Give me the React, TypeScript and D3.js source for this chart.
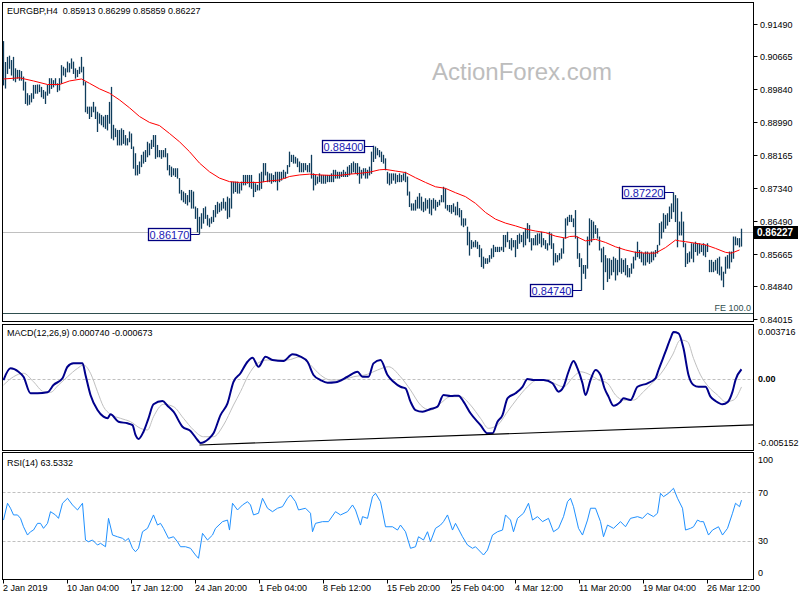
import React, { useEffect } from 'react';
import * as d3 from 'd3';

const TITLE = 'EURGBP,H4  0.85913 0.86299 0.85859 0.86227';
const MACD_TITLE = 'MACD(12,26,9) 0.000740 -0.000673';
const RSI_TITLE = 'RSI(14) 63.5332';
const WATERMARK = 'ActionForex.com';

const TIME_LABEL_BARS = [0, 32, 64, 96, 128, 160, 192, 224, 256, 288, 320, 352];
const TIME_LABELS = ['2 Jan 2019', '10 Jan 04:00', '17 Jan 12:00', '24 Jan 20:00', '1 Feb 04:00', '8 Feb 12:00',
  '15 Feb 20:00', '25 Feb 04:00', '4 Mar 12:00', '11 Mar 20:00', '19 Mar 04:00', '26 Mar 12:00'];

const PRICE_TICKS = [0.9149, 0.90665, 0.8984, 0.8899, 0.88165, 0.8734, 0.8649, 0.85665, 0.8484, 0.84015];
const MACD_TICKS = [0.003716, 0, -0.005152];
const RSI_TICKS = [100, 70, 30, 0];
const RSI_LEVELS = [70, 30];

const LAST_PRICE = 0.86227;
const FE_LEVEL = 0.84164;

const MARK_BARS = [98, 185, 335, 289];
const MARK_PRICES = [0.8617, 0.884, 0.8722, 0.8474];

const HIGH = [
  0.9105,0.9052,0.9065,0.9068,0.9057,0.9065,0.9036,0.9032,0.9032,0.9029,
  0.9015,0.9002,0.8973,0.8968,0.8973,0.8994,0.8994,0.8995,0.8995,0.8989,
  0.8981,0.8977,0.8994,0.9011,0.9011,0.9006,0.9011,0.8998,0.9011,0.9044,
  0.9040,0.9036,0.9053,0.9049,0.9061,0.9053,0.9036,0.9032,0.9040,0.9065,
  0.9040,0.9002,0.8939,0.8939,0.8939,0.8951,0.8939,0.8926,0.8922,0.8918,
  0.8914,0.8918,0.8918,0.8951,0.8989,0.8893,0.8884,0.8880,0.8880,0.8884,
  0.8880,0.8867,0.8859,0.8876,0.8871,0.8838,0.8821,0.8791,0.8800,0.8817,
  0.8825,0.8829,0.8850,0.8846,0.8855,0.8867,0.8867,0.8842,0.8829,0.8829,
  0.8829,0.8834,0.8821,0.8791,0.8787,0.8783,0.8783,0.8783,0.8758,0.8728,
  0.8724,0.8720,0.8715,0.8728,0.8728,0.8724,0.8686,0.8682,0.8660,0.8669,
  0.8682,0.8686,0.8665,0.8656,0.8660,0.8677,0.8690,0.8698,0.8694,0.8698,
  0.8707,0.8698,0.8711,0.8707,0.8749,0.8749,0.8749,0.8749,0.8745,0.8749,
  0.8766,0.8766,0.8766,0.8766,0.8766,0.8749,0.8745,0.8741,0.8770,0.8774,
  0.8796,0.8796,0.8774,0.8770,0.8770,0.8766,0.8774,0.8774,0.8774,0.8774,
  0.8779,0.8774,0.8791,0.8825,0.8817,0.8817,0.8812,0.8808,0.8800,0.8796,
  0.8796,0.8796,0.8791,0.8796,0.8817,0.8770,0.8766,0.8762,0.8770,0.8766,
  0.8766,0.8766,0.8766,0.8766,0.8770,0.8779,0.8779,0.8774,0.8774,0.8774,
  0.8779,0.8774,0.8787,0.8791,0.8796,0.8800,0.8796,0.8796,0.8787,0.8779,
  0.8783,0.8783,0.8779,0.8787,0.8825,0.8840,0.8838,0.8834,0.8829,0.8825,
  0.8817,0.8808,0.8774,0.8770,0.8770,0.8770,0.8770,0.8766,0.8770,0.8766,
  0.8770,0.8774,0.8762,0.8724,0.8694,0.8694,0.8703,0.8711,0.8720,0.8711,
  0.8698,0.8707,0.8703,0.8707,0.8703,0.8707,0.8703,0.8698,0.8703,0.8715,
  0.8736,0.8732,0.8690,0.8690,0.8690,0.8694,0.8686,0.8698,0.8682,0.8677,
  0.8656,0.8656,0.8635,0.8622,0.8601,0.8597,0.8601,0.8597,0.8589,0.8580,
  0.8559,0.8555,0.8555,0.8563,0.8580,0.8589,0.8584,0.8584,0.8584,0.8584,
  0.8614,0.8614,0.8622,0.8601,0.8606,0.8601,0.8601,0.8614,0.8618,0.8614,
  0.8622,0.8631,0.8644,0.8639,0.8606,0.8606,0.8614,0.8618,0.8618,0.8622,
  0.8606,0.8601,0.8593,0.8622,0.8618,0.8593,0.8568,0.8563,0.8568,0.8580,
  0.8606,0.8656,0.8660,0.8665,0.8665,0.8656,0.8677,0.8610,0.8568,0.8555,
  0.8538,0.8538,0.8610,0.8656,0.8652,0.8648,0.8639,0.8631,0.8610,0.8580,
  0.8584,0.8563,0.8555,0.8555,0.8551,0.8559,0.8555,0.8551,0.8584,0.8555,
  0.8551,0.8555,0.8538,0.8530,0.8542,0.8559,0.8572,0.8597,0.8576,0.8572,
  0.8568,0.8572,0.8572,0.8568,0.8572,0.8572,0.8576,0.8589,0.8644,0.8648,
  0.8669,0.8665,0.8669,0.8686,0.8694,0.8722,0.8715,0.8707,0.8648,0.8673,
  0.8648,0.8593,0.8568,0.8572,0.8593,0.8593,0.8597,0.8593,0.8593,0.8589,
  0.8593,0.8589,0.8593,0.8551,0.8551,0.8546,0.8551,0.8555,0.8559,0.8534,
  0.8521,0.8559,0.8563,0.8572,0.8572,0.8610,0.8610,0.8606,0.8606,0.86299,
];

const LOW = [
  0.8994,0.8986,0.9023,0.9036,0.9019,0.9006,0.9002,0.9011,0.9006,0.9006,
  0.8981,0.8947,0.8943,0.8945,0.8951,0.8960,0.8973,0.8973,0.8977,0.8964,
  0.8960,0.8947,0.8968,0.8973,0.8985,0.8989,0.8994,0.8977,0.8981,0.8998,
  0.9019,0.9015,0.9027,0.9027,0.9036,0.9023,0.9011,0.9015,0.9023,0.9027,
  0.8994,0.8926,0.8922,0.8909,0.8914,0.8926,0.8909,0.8876,0.8897,0.8893,
  0.8888,0.8884,0.8880,0.8897,0.8859,0.8855,0.8863,0.8842,0.8842,0.8842,
  0.8846,0.8842,0.8842,0.8850,0.8833,0.8783,0.8766,0.8766,0.8770,0.8787,
  0.8796,0.8800,0.8812,0.8817,0.8833,0.8838,0.8808,0.8812,0.8812,0.8808,
  0.8812,0.8812,0.8779,0.8766,0.8762,0.8766,0.8762,0.8758,0.8720,0.8703,
  0.8698,0.8694,0.8690,0.8698,0.8682,0.8682,0.8656,0.8622,0.8617,0.8631,
  0.8644,0.8656,0.8639,0.8635,0.8644,0.8648,0.8660,0.8669,0.8673,0.8677,
  0.8682,0.8677,0.8656,0.8660,0.8682,0.8720,0.8724,0.8720,0.8720,0.8728,
  0.8741,0.8741,0.8745,0.8736,0.8732,0.8711,0.8724,0.8728,0.8728,0.8732,
  0.8749,0.8766,0.8749,0.8749,0.8745,0.8749,0.8749,0.8728,0.8749,0.8753,
  0.8758,0.8758,0.8770,0.8787,0.8800,0.8796,0.8796,0.8787,0.8774,0.8774,
  0.8774,0.8779,0.8774,0.8774,0.8758,0.8728,0.8741,0.8745,0.8749,0.8745,
  0.8745,0.8745,0.8749,0.8749,0.8749,0.8749,0.8758,0.8758,0.8758,0.8762,
  0.8762,0.8762,0.8762,0.8766,0.8770,0.8774,0.8770,0.8766,0.8745,0.8758,
  0.8766,0.8758,0.8758,0.8766,0.8770,0.8800,0.8808,0.8817,0.8812,0.8800,
  0.8796,0.8779,0.8745,0.8741,0.8745,0.8753,0.8745,0.8749,0.8749,0.8749,
  0.8753,0.8749,0.8715,0.8686,0.8677,0.8677,0.8677,0.8682,0.8682,0.8677,
  0.8673,0.8677,0.8682,0.8669,0.8665,0.8682,0.8677,0.8686,0.8690,0.8698,
  0.8698,0.8682,0.8677,0.8673,0.8669,0.8673,0.8665,0.8665,0.8660,0.8639,
  0.8635,0.8639,0.8589,0.8563,0.8580,0.8584,0.8584,0.8580,0.8559,0.8534,
  0.8530,0.8542,0.8542,0.8546,0.8555,0.8559,0.8572,0.8572,0.8572,0.8576,
  0.8572,0.8584,0.8597,0.8580,0.8576,0.8584,0.8559,0.8580,0.8593,0.8597,
  0.8584,0.8589,0.8606,0.8597,0.8576,0.8589,0.8589,0.8589,0.8593,0.8584,
  0.8589,0.8580,0.8576,0.8589,0.8580,0.8538,0.8546,0.8546,0.8551,0.8555,
  0.8568,0.8606,0.8639,0.8648,0.8648,0.8635,0.8606,0.8555,0.8534,0.8474,
  0.8517,0.8504,0.8530,0.8589,0.8597,0.8606,0.8618,0.8606,0.8576,0.8546,
  0.8476,0.8521,0.8496,0.8504,0.8513,0.8521,0.8500,0.8513,0.8521,0.8517,
  0.8521,0.8513,0.8508,0.8508,0.8517,0.8530,0.8551,0.8559,0.8555,0.8546,
  0.8538,0.8538,0.8546,0.8542,0.8546,0.8551,0.8559,0.8568,0.8589,0.8606,
  0.8622,0.8631,0.8639,0.8648,0.8656,0.8673,0.8648,0.8584,0.8614,0.8614,
  0.8584,0.8534,0.8542,0.8546,0.8555,0.8546,0.8572,0.8563,0.8568,0.8572,
  0.8563,0.8559,0.8572,0.8521,0.8521,0.8521,0.8525,0.8517,0.8513,0.8500,
  0.8483,0.8517,0.8530,0.8530,0.8546,0.8555,0.8589,0.8589,0.8584,0.85859,
];

const MA_BARS = [0,8,15,22,28,33,39,43,48,53,58,63,68,73,78,83,88,93,98,103,108,113,118,123,128,133,138,143,148,153,
  158,163,168,173,178,183,188,191,196,201,206,211,216,221,226,231,236,241,246,251,256,261,266,271,276,281,283,286,291,296,
  301,306,311,316,321,326,331,336,338,341,346,351,356,361,364,368];
const MA_VALUES = [0.9009,0.9012,0.9004,0.8995,0.8995,0.9004,0.9009,0.8998,0.8984,0.8973,0.8956,0.8936,0.8914,0.8899,0.8891,
  0.8871,0.8850,0.8825,0.8796,0.8774,0.8758,0.8749,0.8747,0.8747,0.8747,0.8751,0.8753,0.8762,0.8766,0.8768,0.8766,0.8765,
  0.8765,0.8768,0.8770,0.8773,0.8779,0.8780,0.8776,0.8772,0.8759,0.8747,0.8736,0.8732,0.8721,0.8711,0.8694,0.8671,0.8654,
  0.8644,0.8637,0.8629,0.8624,0.8620,0.8611,0.8606,0.8610,0.8611,0.8599,0.8603,0.8595,0.8584,0.8576,0.8570,0.8568,0.8568,
  0.8582,0.8601,0.8599,0.8597,0.8593,0.8589,0.8580,0.8570,0.8568,0.8576];

const MACD_BARS = [0,3.5,7.5,10,13.5,17,22,25,29.5,32,35,39.5,41,43.5,47,50,52,53.5,57.5,62,64.5,66,67.5,70,72.5,75,79.5,82,85,89.5,
  93.5,97,98.5,102.5,105,108.5,112,115,118.5,122,124.5,127.5,131,134.5,140,144.5,148.5,152,155,158.5,162,166,172,177,179.5,182.5,185,188.5,192,195,
  198.5,201,203.5,206,209.5,213.5,217,220,223.5,227.5,230,233.5,238.5,242,244.5,247,249.5,252,256,259.5,262,265,270,274.5,277.5,280,282.5,285,287,289.5,
  291,293.5,296,298.5,300.5,302.5,305,308.5,310,313.5,317,322,326,327.5,331,333.5,335,337.5,340,342.5,345,347.5,351,353.5,356,359.5,362,364.5,366,369];
const MACD_VALUES = [-1.2e-4,8.1e-4,5.4e-4,1.4e-4,-11.8e-4,-11.8e-4,-11.0e-4,-5.2e-4,0.2e-4,9.4e-4,
  12.1e-4,12.1e-4,2.8e-4,-13.2e-4,-25.2e-4,-30.5e-4,-31.8e-4,-28.6e-4,-34.5e-4,-35.8e-4,
  -37.2e-4,-45.1e-4,-48.3e-4,-42.5e-4,-31.8e-4,-20.6e-4,-18.0e-4,-21.7e-4,-26.5e-4,-38.5e-4,
  -41.9e-4,-49.1e-4,-51.5e-4,-48.3e-4,-43.8e-4,-29.2e-4,-19.8e-4,-2.6e-4,4.2e-4,13.4e-4,
  16.6e-4,9.4e-4,17.4e-4,14.8e-4,14.0e-4,19.3e-4,17.4e-4,13.4e-4,2.8e-4,-1.2e-4,
  -3.4e-4,-3.0e-4,1.4e-4,5.4e-4,1.4e-4,1.4e-4,12.1e-4,14.8e-4,2.8e-4,-2.6e-4,
  -6.6e-4,-7.8e-4,-18.5e-4,-25.2e-4,-26.5e-4,-24.4e-4,-22.5e-4,-13.2e-4,-14.0e-4,-13.7e-4,
  -18.5e-4,-27.8e-4,-37.2e-4,-43.8e-4,-43.8e-4,-34.5e-4,-29.2e-4,-15.8e-4,-11.8e-4,-6.6e-4,
  -0.4e-4,-1.2e-4,-1.2e-4,-3.8e-4,-10.5e-4,-6.6e-4,5.4e-4,14.0e-4,8.1e-4,-3.8e-4,
  -13.2e-4,-1.2e-4,6.8e-4,2.8e-4,-7.8e-4,-14.5e-4,-21.7e-4,-18.5e-4,-15.8e-4,-17.2e-4,
  -6.6e-4,-3.8e-4,0.2e-4,6.8e-4,21.4e-4,32.1e-4,37.16e-4,36.1e-4,24.1e-4,2.8e-4,
  -5.2e-4,-6.6e-4,-6.6e-4,-14.5e-4,-18.0e-4,-20.6e-4,-19.0e-4,-10.5e-4,-1.2e-4,7.4e-4];

const SIGNAL_BARS = [0,5,10,15,20,23.5,27.5,32,37,40,43.5,47,50,53.5,58.5,63.5,68.5,72,75,80,85,90,95,100,105,110,115,118.5,122.5,127,
  132,137,142,148.5,153.5,158.5,163.5,168.5,175,182,187,192.5,198.5,203.5,208.5,213.5,218.5,223.5,228.5,233.5,
  238.5,242.5,247,252,257,262,267,273.5,280,285,288.5,293.5,297.5,302,306,310,315,320,325,330,334.5,338.5,342,345,348.5,352.5,357,361,365,369];
const SIGNAL_VALUES = [-5.2e-4,1.4e-4,4.2e-4,-2.6e-4,-10.5e-4,-11.0e-4,-5.2e-4,1.4e-4,8.1e-4,10.8e-4,
  4.2e-4,-10.5e-4,-22.5e-4,-28.6e-4,-31.8e-4,-34.5e-4,-39.8e-4,-41.1e-4,-30.5e-4,-20.6e-4,
  -22.5e-4,-31.8e-4,-41.1e-4,-46.5e-4,-46.5e-4,-37.2e-4,-21.2e-4,-10.5e-4,2.8e-4,12.1e-4,
  14.8e-4,14.8e-4,14.8e-4,17.4e-4,10.8e-4,2.8e-4,-1.2e-4,-1.2e-4,1.4e-4,3.4e-4,
  6.8e-4,9.4e-4,1.4e-4,-9.2e-4,-21.2e-4,-25.2e-4,-19.8e-4,-14.5e-4,-14.5e-4,-21.2e-4,
  -31.8e-4,-39.8e-4,-37.2e-4,-26.5e-4,-15.8e-4,-6.6e-4,-1.2e-4,-2.6e-4,-6.6e-4,1.4e-4,
  5.4e-4,2.8e-4,-1.2e-4,-3.8e-4,-13.2e-4,-17.2e-4,-17.2e-4,-10.5e-4,-2.6e-4,6.8e-4,
  18.8e-4,30.8e-4,29.4e-4,16.1e-4,2.8e-4,-6.6e-4,-13.2e-4,-18.5e-4,-17.2e-4,-6.73e-4];

const MACD_TREND_BARS = [98, 375];
const MACD_TREND_VALUES = [-0.00531, -0.0037];

const RSI_BARS = [0,2,3.5,5,7,8.5,10,12,13.5,15,17,18.5,20,22,23.5,26,27.5,29.5,32,34.5,37,39.5,41,42.5,44.5,47,48.5,51,52.5,54.5,
  57,59.5,61,62.5,64.5,66,67.5,69.5,72,75,77,78.5,80,82.5,85,87,88.5,91,93.5,96,97.5,99.5,102,104.5,106,109.5,112,113,114.5,117,
  119.5,122,123.5,125,127.5,129.5,132,134.5,137,139.5,142,143.5,146,147.5,151,153.5,154.5,156,159.5,162.5,166,168.5,172,174.5,176,178.5,179.5,182,184.5,186,
  188.5,191,194.5,197,198.5,201,203.5,206,207.5,210,212,213.5,216,218.5,220,222,224.5,226,229.5,232,234.5,236,240,242,244.5,247,249.5,251,253.5,255,
  257,260,262.5,264.5,267,269.5,272.5,275,277.5,280,282,283.5,285,287.5,289.5,292,293.5,296,298.5,300,302,305,308.5,311,313.5,317,319.5,322,325,327,
  328.5,330,332.5,335,337,339.5,341,343.5,345,347,348.5,350,352.5,354.5,357.5,359.5,362,364.5,366,368,369];
const RSI_VALUES = [47.2,61.0,56.9,51.4,51.4,48.6,41.7,34.9,37.6,39.0,44.5,44.5,40.4,44.5,54.1,51.4,48.6,61.0,65.1,59.6,
  55.5,61.0,30.8,29.4,30.8,26.7,28.1,25.3,48.6,34.9,33.5,32.2,30.2,32.2,24.0,21.2,24.0,37.6,40.4,51.4,
  43.1,44.5,40.4,32.2,33.5,29.4,25.3,25.3,24.0,18.5,15.8,36.3,30.8,34.9,40.4,45.9,47.2,39.0,61.0,55.5,
  59.6,62.3,59.6,51.4,52.8,65.1,56.9,54.1,56.9,58.2,65.1,67.8,62.3,55.5,56.9,52.8,37.6,44.5,45.9,45.9,
  54.1,51.4,54.1,59.6,55.5,43.1,50.0,48.6,66.4,69.2,62.3,41.7,41.7,39.0,43.1,37.6,24.0,25.3,33.5,30.8,
  37.6,29.4,40.4,43.1,45.9,51.4,39.0,44.5,33.5,26.7,24.0,25.3,18.5,22.6,34.9,37.6,39.0,51.4,47.2,37.6,
  48.6,52.8,61.0,47.2,50.0,45.9,48.6,37.6,40.4,50.0,62.3,65.1,58.2,40.4,34.9,47.2,56.9,56.9,45.9,33.5,
  43.1,40.4,45.9,41.7,48.6,50.0,48.6,52.8,50.0,52.8,69.2,66.4,69.2,73.3,65.1,56.9,39.0,40.4,41.7,47.2,
  45.9,45.9,34.9,39.0,41.7,34.9,40.4,52.8,61.0,58.2,63.53];

const FONT = "'Liberation Sans', Arial, sans-serif";
const BAR_COLOR = '#0f3d5c';

export default function App() {
  useEffect(() => {
    document.body.style.margin = '0';
  }, []);

  const left = 2.5, right = 753.5;
  const main = { top: 2.5, bottom: 321.5 };
  const macdP = { top: 324.5, bottom: 450.5 };
  const rsiP = { top: 452.5, bottom: 579.5 };

  const x = d3.scaleLinear().domain([0, 369]).range([3.5, 741.5]);
  const yP = d3.scaleLinear().domain([0.88165, 0.8484]).range([155, 286.3]);
  const yM = d3.scaleLinear().domain([0.003716, -0.005152]).range([332, 443]);
  const yR = d3.scaleLinear().domain([70, 30]).range([492.3, 541]);

  const maPath = d3.line<number>().x((_, i) => x(MA_BARS[i])).y((d) => yP(d))(MA_VALUES) || '';
  const macdPath = d3.line<number>().x((_, i) => x(MACD_BARS[i])).y((d) => yM(d)).curve(d3.curveMonotoneX)(MACD_VALUES) || '';
  const sigPath = d3.line<number>().x((_, i) => x(SIGNAL_BARS[i])).y((d) => yM(d)).curve(d3.curveMonotoneX)(SIGNAL_VALUES) || '';
  const rsiPath = d3.line<number>().x((_, i) => x(RSI_BARS[i])).y((d) => yR(d))(RSI_VALUES) || '';
  const trendPath = d3.line<number>().x((_, i) => x(MACD_TREND_BARS[i])).y((d) => yM(d))(MACD_TREND_VALUES) || '';

  const lastY = yP(LAST_PRICE);
  const feY = Math.round(yP(FE_LEVEL)) + 0.5;

  return (
    <svg width={800} height={600} style={{ position: 'absolute', left: 0, top: 0, display: 'block' }} fontFamily={FONT}>
      <rect x={0} y={0} width={800} height={600} fill="#ffffff" />

      <text x={432} y={80} fontSize={24} fill="#bdbdbd">{WATERMARK}</text>

      <line x1={left} x2={right} y1={Math.round(lastY) + 0.5} y2={Math.round(lastY) + 0.5} stroke="#c0c0c0" strokeWidth={1} />

      <line x1={left} x2={right} y1={feY} y2={feY} stroke="#2f4f4f" strokeWidth={1} />
      <text x={751} y={feY - 3} fontSize={9} fill="#2f4f4f" textAnchor="end">FE 100.0</text>

      <g stroke={BAR_COLOR} strokeWidth={1.3}>
        {HIGH.map((h, i) => (
          <line key={i} x1={x(i)} x2={x(i)} y1={yP(h)} y2={yP(LOW[i]) + 0.5} />
        ))}
      </g>

      <path d={maPath} fill="none" stroke="#ff0000" strokeWidth={1} />

      {MARK_BARS.map((b, i) => {
        const bx = x(b);
        const py = Math.round(yP(MARK_PRICES[i])) + 0.5;
        const boxR = Math.round(bx - 10) + 0.5;
        const w = 42;
        return (
          <g key={'m' + i}>
            <line x1={boxR} x2={bx} y1={py} y2={py} stroke="#000080" strokeWidth={1} />
            <rect x={boxR - w} y={py - 6} width={w} height={12} fill="#ffffff" stroke="#000080" strokeWidth={1.3} />
            <text x={boxR - w / 2} y={py + 4} fontSize={11} fill="#1a1ab4" textAnchor="middle">{MARK_PRICES[i].toFixed(5)}</text>
          </g>
        );
      })}

      <line x1={left} x2={right} y1={Math.round(yM(0)) + 0.5} y2={Math.round(yM(0)) + 0.5} stroke="#c0c0c0" strokeDasharray="3,2" />
      <path d={sigPath} fill="none" stroke="#c0c0c0" strokeWidth={1} />
      <path d={macdPath} fill="none" stroke="#00008b" strokeWidth={2} />
      <path d={trendPath} fill="none" stroke="#000000" strokeWidth={1.2} />

      {RSI_LEVELS.map((v) => (
        <line key={'rl' + v} x1={left} x2={right} y1={Math.round(yR(v)) + 0.5} y2={Math.round(yR(v)) + 0.5} stroke="#c0c0c0" strokeDasharray="3,2" />
      ))}
      <path d={rsiPath} fill="none" stroke="#1e90ff" strokeWidth={1} />

      <g fill="none" stroke="#000000" strokeWidth={1}>
        <rect x={left} y={main.top} width={right - left} height={main.bottom - main.top} />
        <rect x={left} y={macdP.top} width={right - left} height={macdP.bottom - macdP.top} />
        <rect x={left} y={rsiP.top} width={right - left} height={rsiP.bottom - rsiP.top} />
      </g>

      <text x={7} y={13.5} fontSize={9} fill="#000" style={{ whiteSpace: 'pre' }}>{TITLE}</text>
      <text x={7} y={336} fontSize={9} fill="#000">{MACD_TITLE}</text>
      <text x={7} y={465.5} fontSize={9} fill="#000">{RSI_TITLE}</text>

      {PRICE_TICKS.map((v) => {
        const ty = Math.round(yP(v)) + 0.5;
        return (
          <g key={'p' + v}>
            <line x1={right} x2={right + 4} y1={ty} y2={ty} stroke="#000" />
            <text x={760} y={ty + 3.3} fontSize={9} fill="#000">{v.toFixed(5)}</text>
          </g>
        );
      })}
      <rect x={754} y={Math.round(lastY) - 6} width={44} height={13} fill="#000000" />
      <text x={757} y={Math.round(lastY) + 4} fontSize={10} fontWeight="bold" fill="#ffffff">{LAST_PRICE.toFixed(5)}</text>

      {MACD_TICKS.map((v) => {
        const ty = yM(v);
        return (
          <text key={'mt' + v} x={758} y={ty + 3.3} fontSize={9} fill="#000" fontWeight={v === 0 ? 'bold' : 'normal'}>
            {v === 0 ? '0.00' : v.toFixed(6)}
          </text>
        );
      })}

      {RSI_TICKS.map((v) => {
        const ty = Math.min(Math.max(yR(v), rsiP.top + 7.5), rsiP.bottom - 6.5);
        return (
          <text key={'rt' + v} x={758} y={ty + 3.3} fontSize={9} fill="#000">{String(v)}</text>
        );
      })}

      {TIME_LABEL_BARS.map((b, i) => {
        const tx = Math.round(x(b) - 0.5) + 0.5;
        return (
          <g key={'t' + b}>
            <line x1={tx} x2={tx} y1={rsiP.bottom} y2={rsiP.bottom + 4} stroke="#000" />
            <text x={tx - 0.5} y={591} fontSize={9} fill="#000">{TIME_LABELS[i]}</text>
          </g>
        );
      })}
    </svg>
  );
}
